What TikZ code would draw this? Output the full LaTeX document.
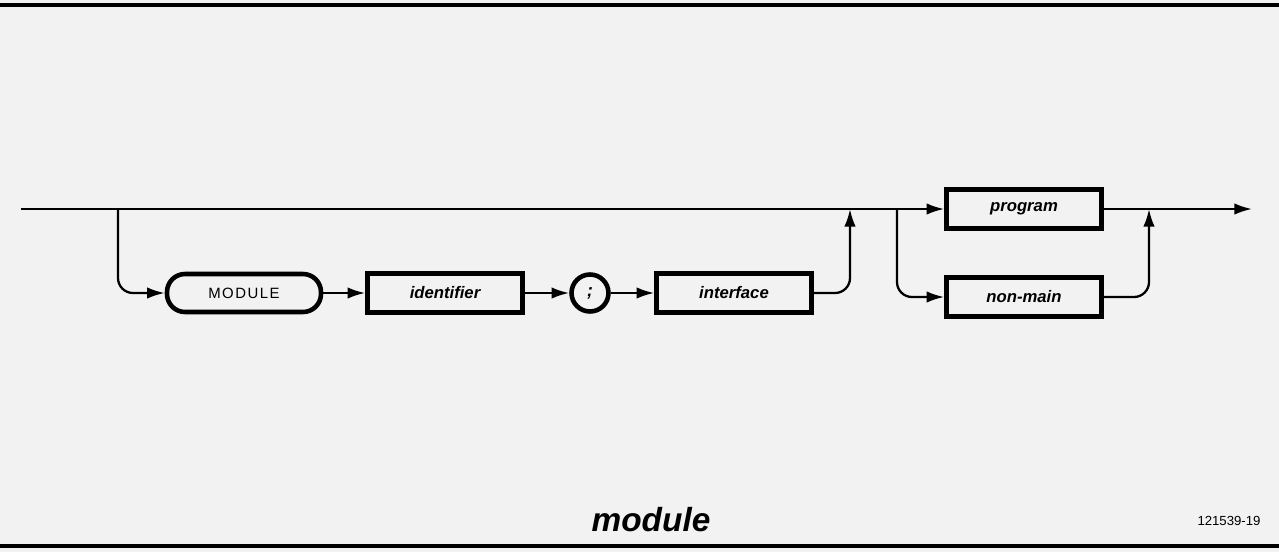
\documentclass[tikz,border=0pt]{standalone}
\usepackage{fontspec}
\setmainfont{Liberation Sans}
\newfontfamily\kwfont[LetterSpace=10]{Liberation Sans}
\usepackage{tikz}
\usetikzlibrary{positioning, arrows.meta}

\begin{document}
\begin{tikzpicture}[
  x=0.02cm, y=-0.02cm,
  nonterm/.style={rectangle, draw=black, line width=2.6pt, minimum width=3.1cm, minimum height=0.78cm,
    inner sep=0pt, font=\fontsize{9.5}{11}\selectfont\bfseries\itshape},
  keyword/.style={rectangle, rounded corners=0.36cm, draw=black, line width=2.6pt, minimum width=3.08cm,
    minimum height=0.76cm, inner sep=0pt, font=\fontsize{8.5}{10}\selectfont\kwfont},
  sym/.style={circle, draw=black, line width=2.6pt, minimum size=0.74cm, inner sep=0pt,
    font=\fontsize{10}{12}\selectfont\bfseries\itshape},
  line/.style={line width=1.3pt},
  arr/.style={line width=1.3pt, -{Latex[length=10pt, width=6.5pt]}},
  rule/.style={line width=1.8pt}
]
% --- page and frame ---
\fill[black!5] (0,0) rectangle (1279,552);
\useasboundingbox (0,0) rectangle (1279,552);
\draw[rule] (0,5) -- (1279,5);
\draw[rule] (0,546) -- (1279,546);

% --- syntax boxes ---
\node[keyword] (kwmod) at (244,293) {MODULE};
\node[nonterm] (ident) at (445,293) {identifier};
\node[sym] (semi) at (590,293) {;};
\node[nonterm] (iface) at (734,293) {interface};
\node[nonterm] (prog) at (1024,209) {program};
\node[nonterm] (nmain) at (1024,297) {non-main};

% --- junctions on the main line ---
\coordinate (start) at (21,209);
\coordinate (fork1) at (118,209);
\coordinate (join1) at (850,209);
\coordinate (fork2) at (897,209);
\coordinate (join2) at (1149,209);
\coordinate (finish) at (1252,209);

% --- main line ---
\draw[arr] (start) -- (prog.west);
\draw[arr] (prog.east) -- (finish);

% --- MODULE identifier ; interface ---
\draw[arr, rounded corners=0.3cm] (fork1) |- (kwmod.west);
\draw[arr] (kwmod) -- (ident);
\draw[arr] (ident) -- (semi);
\draw[arr] (semi) -- (iface);
\draw[arr, rounded corners=0.3cm] (iface.east) -| (join1);

% --- program or non-main ---
\draw[arr, rounded corners=0.3cm] (fork2) |- (nmain.west);
\draw[arr, rounded corners=0.3cm] (nmain.east) -| (join2);

% --- captions ---
\node[font=\fontsize{19}{22}\selectfont\bfseries\itshape] (title) at (651,520) {module};
\node[font=\fontsize{7.5}{9}\selectfont] (figno) at (1229,521) {121539-19};
\end{tikzpicture}
\end{document}
